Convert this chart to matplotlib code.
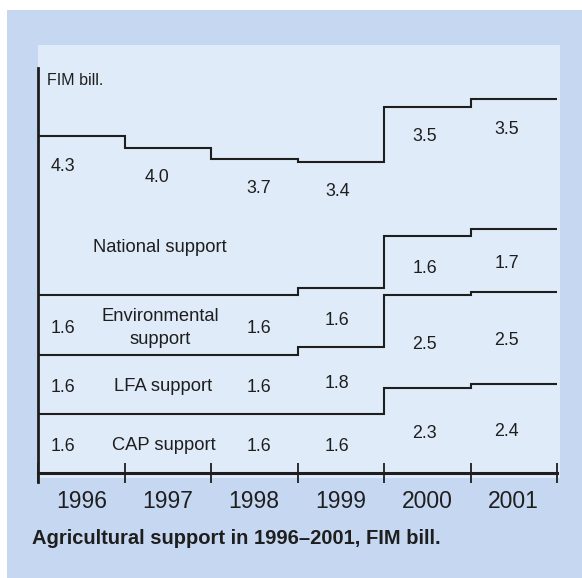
import matplotlib
matplotlib.use("Agg")
import matplotlib.pyplot as plt
import numpy as np
from matplotlib.patches import Rectangle

plt.rcParams['font.family'] = ['Liberation Sans', 'DejaVu Sans']

#-----------------------------------------------------------------------------#
# Agricultural support 1996-2001, FIM bill.

years = ['1996', '1997', '1998', '1999', '2000', '2001']
cap_support = [1.6, 1.6, 1.6, 1.6, 2.3, 2.4]
lfa_support = [1.6, 1.6, 1.6, 1.8, 2.5, 2.5]
env_support = [1.6, 1.6, 1.6, 1.6, 1.6, 1.7]
nat_support = [4.3, 4.0, 3.7, 3.4, 3.5, 3.5]

# which years get a printed value (1997 holds the row names for lower layers)
show_lower = [True, False, True, True, True, True]

#-----------------------------------------------------------------------------#
W, H = 582, 578
fig = plt.figure(figsize=(W / 100, H / 100), dpi=100)
fig.patch.set_facecolor('white')

outer = '#c6d8f1'
inner = '#e0ebf9'
ink = '#1e1e1e'

fig.patches.append(Rectangle((7 / W, 0), 1 - 7 / W, (H - 10) / H,
                             transform=fig.transFigure, fc=outer, ec='none', zorder=-2))
fig.patches.append(Rectangle((38 / W, (H - 478) / H), 522 / W, 433 / H,
                             transform=fig.transFigure, fc=inner, ec='none', zorder=-1))

ax = fig.add_axes([38 / W, (H - 473) / H, (557 - 38) / W, (473 - 68) / H])
ax.set_zorder(2)
ax.set_facecolor('none')
ax.set_xlim(0, 6)
ax.set_ylim(0, 10.95)

layers = [cap_support, lfa_support, env_support, nat_support]
cum = np.cumsum(np.array(layers), axis=0)
edges = np.arange(len(years) + 1)

for top in cum:
    ax.stairs(top, edges, baseline=None, color=ink, lw=1.5)

# spines and ticks
for s in ['top', 'right']:
    ax.spines[s].set_visible(False)
ax.spines['left'].set_linewidth(2)
ax.spines['bottom'].set_linewidth(2.2)
ax.spines['left'].set_color(ink)
ax.spines['bottom'].set_color(ink)
ax.spines['left'].set_bounds(-0.25, 10.95)
ax.set_yticks([])
ax.set_xticks(edges, labels=[''] * len(edges))
ax.tick_params(axis='x', which='major', direction='inout', length=14, width=1.3, color=ink)
ax.set_xticks(edges[:-1] + 0.5, labels=years, minor=True)
ax.tick_params(axis='x', which='minor', length=0, pad=12, labelsize=16.5, labelcolor=ink)

# value labels
xoff = [-0.21, -0.13, 0.05, -0.04, -0.03, -0.08]
vsize = 12.8
base = np.vstack([np.zeros(len(years)), cum[:-1]])
for k in range(3):
    for i, v in enumerate(layers[k]):
        if not show_lower[i]:
            continue
        ymid = (base[k][i] + cum[k][i]) / 2 - 0.08
        ax.text(i + 0.5 + xoff[i], ymid, f'{v:.1f}', ha='center', va='center',
                fontsize=vsize, color=ink)
for i, v in enumerate(nat_support):
    ax.text(i + 0.5 + xoff[i], cum[3][i] - 0.8, f'{v:.1f}', ha='center', va='center',
            fontsize=vsize, color=ink)

# row names
nsize = 13.2
ax.text(1.45, (base[0][1] + cum[0][1]) / 2 - 0.05, 'CAP support', ha='center', va='center',
        fontsize=nsize, color=ink)
ax.text(1.45, (base[1][1] + cum[1][1]) / 2 - 0.05, 'LFA support', ha='center', va='center',
        fontsize=nsize, color=ink)
ax.text(1.41, (base[2][1] + cum[2][1]) / 2 - 0.08, 'Environmental\nsupport', ha='center',
        va='center', fontsize=nsize, color=ink, linespacing=1.45)
ax.text(1.41, cum[2][1] + 1.3, 'National support', ha='center', va='center',
        fontsize=nsize, color=ink)

ax.text(0.1, 10.6, 'FIM bill.', ha='left', va='center', fontsize=11.5, color=ink)

fig.text(32 / W, (H - 539) / H, 'Agricultural support in 1996\u20132001, FIM bill.',
         ha='left', va='center', fontsize=14.5, fontweight='bold', color=ink)

fig.savefig('out.png', dpi=100)
